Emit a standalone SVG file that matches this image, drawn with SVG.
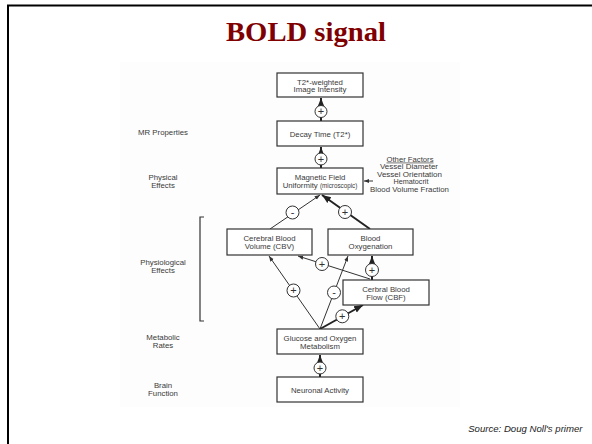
<svg xmlns="http://www.w3.org/2000/svg" width="592" height="444" viewBox="0 0 592 444">
<style>
.box{fill:#fff;stroke:#333;stroke-width:1.2}
.t{font-family:"Liberation Sans",Arial,sans-serif;font-size:7.8px;fill:#3a3a3a;text-anchor:middle}
.of{font-size:6.7px}
.ts{font-size:6.3px}
.ln{stroke:#333;stroke-width:1;fill:none}
.th{stroke:#222;stroke-width:2;fill:none}
.sg{fill:#fff;stroke:#333;stroke-width:1}
.sx{font-family:"Liberation Sans",Arial,sans-serif;font-size:11px;fill:#333;text-anchor:middle}
</style>
<defs>
<marker id="ah" markerUnits="userSpaceOnUse" markerWidth="10" markerHeight="10" viewBox="0 0 10 10" refX="9" refY="5" orient="auto">
<path d="M0,1.5 L9,5 L0,8.5 Z" fill="#222"/>
</marker>
<marker id="as" markerUnits="userSpaceOnUse" markerWidth="6" markerHeight="6" viewBox="0 0 10 10" refX="9" refY="5" orient="auto">
<path d="M0,1.5 L9,5 L0,8.5 Z" fill="#333"/>
</marker>
</defs>
<rect x="0" y="0" width="592" height="444" fill="#fff"/>
<rect x="8" y="5.5" width="600" height="460" fill="none" stroke="#000" stroke-width="2"/>
<rect x="120" y="62" width="340" height="345" fill="#fdfdfd"/>
<text x="306" y="41" font-family="'Liberation Serif','Times New Roman',serif" font-weight="bold" font-size="27" fill="#800000" text-anchor="middle" textLength="160" lengthAdjust="spacingAndGlyphs">BOLD signal</text>

<g id="labels">
<text class="t" x="163" y="135">MR Properties</text>
<text class="t" x="163" y="180">Physical</text>
<text class="t" x="163" y="187.8">Effects</text>
<text class="t" x="163" y="265">Physiological</text>
<text class="t" x="163" y="272.8">Effects</text>
<text class="t" x="163" y="340">Metabolic</text>
<text class="t" x="163" y="347.8">Rates</text>
<text class="t" x="163" y="387.8">Brain</text>
<text class="t" x="163" y="395.5">Function</text>
<path d="M204,217 H200 V321 H204" fill="none" stroke="#333" stroke-width="1.2"/>
</g>

<g id="other-factors">
<text class="t of" x="410" y="161.6" text-decoration="underline" textLength="47" lengthAdjust="spacingAndGlyphs">Other Factors</text>
<text class="t of" x="409" y="169.2" textLength="58" lengthAdjust="spacingAndGlyphs">Vessel Diameter</text>
<text class="t of" x="409.5" y="176.8" textLength="65" lengthAdjust="spacingAndGlyphs">Vessel Orientation</text>
<text class="t of" x="411" y="184.4" textLength="35" lengthAdjust="spacingAndGlyphs">Hematocrit</text>
<text class="t of" x="409.5" y="192" textLength="79" lengthAdjust="spacingAndGlyphs">Blood Volume Fraction</text>
</g>

<g id="connectors">
<line class="th" x1="321" y1="121" x2="321" y2="98" marker-end="url(#ah)"/>
<line class="th" x1="321" y1="168" x2="321" y2="147" marker-end="url(#ah)"/>
<line class="th" x1="320" y1="377" x2="320" y2="355" marker-end="url(#ah)"/>
<line class="ln" x1="373" y1="181" x2="364" y2="181" marker-end="url(#as)"/>
<line class="ln" x1="270" y1="229" x2="320" y2="195" marker-end="url(#as)"/>
<line class="th" x1="370" y1="229" x2="322" y2="195" marker-end="url(#ah)"/>
<line class="ln" x1="320" y1="329" x2="269" y2="256" marker-end="url(#as)"/>
<line class="ln" x1="320" y1="329" x2="348" y2="256" marker-end="url(#as)"/>
<line class="th" x1="320" y1="329" x2="363" y2="305" marker-end="url(#ah)"/>
<line class="th" x1="372" y1="280" x2="372" y2="256" marker-end="url(#ah)"/>
<line class="ln" x1="370" y1="279" x2="298" y2="256" marker-end="url(#as)"/>
<circle class="sg" cx="321" cy="111.5" r="6"/><text class="sx" x="321" y="115.4">+</text>
<circle class="sg" cx="321" cy="159" r="6"/><text class="sx" x="321" y="162.9">+</text>
<circle class="sg" cx="320" cy="368" r="6"/><text class="sx" x="320" y="371.9">+</text>
<circle class="sg" cx="292.5" cy="212.5" r="6.5"/><text class="sx" x="292.5" y="215.5">-</text>
<circle class="sg" cx="345" cy="212" r="6.5"/><text class="sx" x="345" y="215.9">+</text>
<circle class="sg" cx="293.5" cy="290.5" r="6.5"/><text class="sx" x="293.5" y="294.4">+</text>
<circle class="sg" cx="334" cy="292.5" r="6.5"/><text class="sx" x="334" y="295.5">-</text>
<circle class="sg" cx="342.3" cy="316.3" r="6.5"/><text class="sx" x="342.3" y="320.2">+</text>
<circle class="sg" cx="372" cy="270" r="6.5"/><text class="sx" x="372" y="273.9">+</text>
<circle class="sg" cx="322" cy="264" r="6.5"/><text class="sx" x="322" y="267.9">+</text>
</g>

<g id="t2-intensity">
<rect class="box" x="277" y="73" width="86" height="24"/>
<text class="t" x="320" y="84.6">T2*-weighted</text>
<text class="t" x="320" y="92.2">Image Intensity</text>
</g>
<g id="decay-time">
<rect class="box" x="277" y="121" width="86" height="25"/>
<text class="t" x="320" y="136.6">Decay Time (T2*)</text>
</g>
<g id="magnetic-field">
<rect class="box" x="277" y="168" width="86" height="26"/>
<text class="t" x="320" y="179.5">Magnetic Field</text>
<text class="t" x="320" y="188">Uniformity <tspan class="ts">(microscopic)</tspan></text>
</g>
<g id="cbv">
<rect class="box" x="227" y="229" width="85" height="26"/>
<text class="t" x="269.5" y="240.5">Cerebral Blood</text>
<text class="t" x="269.5" y="248.5">Volume (CBV)</text>
</g>
<g id="blood-oxygenation">
<rect class="box" x="328" y="229" width="85" height="26"/>
<text class="t" x="370.5" y="240.5">Blood</text>
<text class="t" x="370.5" y="248.5">Oxygenation</text>
</g>
<g id="cbf">
<rect class="box" x="343" y="280" width="86" height="25"/>
<text class="t" x="386" y="291.5">Cerbral Blood</text>
<text class="t" x="386" y="299.5">Flow (CBF)</text>
</g>
<g id="glucose">
<rect class="box" x="277" y="329" width="86" height="25"/>
<text class="t" x="320" y="340.8">Glucose and Oxygen</text>
<text class="t" x="320" y="348.5">Metabolism</text>
</g>
<g id="neuronal">
<rect class="box" x="277" y="377" width="86" height="25"/>
<text class="t" x="320" y="392.8">Neuronal Activity</text>
</g>

<text x="582.5" y="432" font-family="'Liberation Sans',Arial,sans-serif" font-style="italic" font-size="9.6" fill="#222" text-anchor="end">Source: Doug Noll's primer</text>
</svg>
